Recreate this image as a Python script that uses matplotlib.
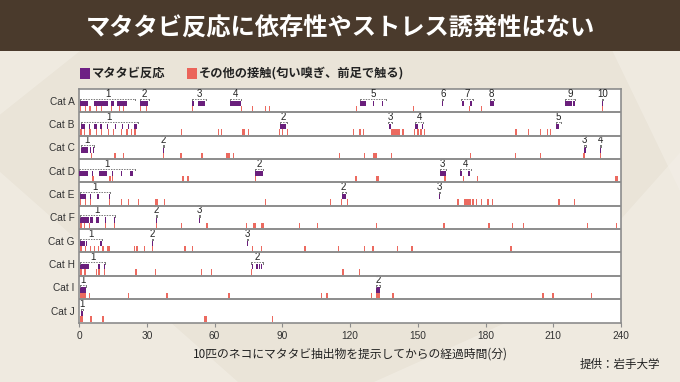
import matplotlib
matplotlib.use("Agg")
import matplotlib.pyplot as plt
from matplotlib.patches import Rectangle, Polygon

plt.rcParams['font.family'] = ['Noto Sans CJK JP', 'DejaVu Sans']

# ---------------- data (minutes) ----------------
cats = ["Cat A", "Cat B", "Cat C", "Cat D", "Cat E", "Cat F", "Cat G", "Cat H", "Cat I", "Cat J"]
x_ticks = [0, 30, 60, 90, 120, 150, 180, 210, 240]

cat_a_purple = [(0.3, 4.1), (6.8, 12.7), (14, 15.6), (16.7, 21.1), (27, 30.4), (50.2, 50.7), (52.7, 56),
                (66.7, 71.7), (124.4, 127.3), (130.2, 130.7), (134, 134.5), (160.8, 161.3), (169.5, 170.6),
                (173.3, 173.8), (181.9, 183.6), (215.2, 218.3), (218.9, 219.8), (231.6, 232.0)]
cat_a_other = [(0.5, 1.0), (2.7, 3.2), (4.6, 5.1), (7.5, 8.0), (9.7, 10.2), (14.2, 14.7), (17.5, 18.0),
               (19.4, 19.9), (27.0, 27.5), (29.7, 30.2), (50.1, 50.6), (71.8, 72.3), (76.5, 77.0),
               (82.2, 82.7), (84.2, 84.7), (122.6, 123.1), (147.7, 148.2), (172.8, 173.3), (177.8, 178.3),
               (231.6, 232.1)]
cat_a_episodes = [("1", 0.3, 25), ("2", 27, 30.8), ("3", 50, 56.3), ("4", 66.7, 71.7), ("5", 124.4, 135.8),
                  ("6", 160.8, 161.4), ("7", 169, 174.5), ("8", 181.9, 183.6), ("9", 215.2, 219.8),
                  ("10", 231.5, 232.1)]

cat_b_purple = [(0.7, 2.5), (4.4, 4.9), (6.7, 8.1), (9.1, 10.2), (12.5, 13.0), (16.0, 16.5), (19.0, 19.5),
                (21.5, 22.0), (24.4, 25.6), (89.2, 91.8), (137.2, 138.3), (149, 150.2), (151.8, 152.3),
                (211.3, 212.6)]
cat_b_other = [(0.5, 1.2), (2.3, 2.8), (4.6, 5.1), (7.5, 8.0), (9.7, 10.2), (12.7, 13.2), (15.0, 15.5),
               (18.5, 19.0), (20.8, 21.5), (23.0, 23.6), (24.5, 25.3), (45.0, 45.5), (61.5, 62.0),
               (62.8, 63.3), (72.2, 73.4), (74.8, 75.3), (88.4, 88.9), (89.8, 90.3), (92.0, 92.6),
               (121.4, 121.9), (124.1, 124.6), (125.6, 126.1), (138.3, 142.0), (143.2, 143.7),
               (148.2, 148.7), (149.8, 150.3), (151.2, 151.7), (152.6, 153.1), (193.1, 194.1),
               (198.8, 199.3), (204.0, 204.5), (207.3, 207.8), (208.6, 209.1)]
cat_b_episodes = [("1", 0.7, 26), ("2", 89, 92), ("3", 137, 138.5), ("4", 149, 152.5), ("5", 211.3, 213.5)]

cat_c_purple = [(0.7, 3.8), (4.7, 5.2), (6.2, 6.7), (37.2, 37.7), (223.7, 224.3), (230.7, 231.2)]
cat_c_other = [(5.3, 5.8), (15.7, 16.2), (19.4, 19.9), (37.2, 37.7), (44.9, 45.4), (54.2, 54.7),
               (65.3, 67.0), (68.3, 68.8), (115.1, 115.6), (126.3, 126.8), (130.0, 131.8), (138.1, 138.6),
               (173.2, 173.7), (193.1, 193.6), (204.2, 204.7), (223.3, 223.8), (230.6, 231.1)]
cat_c_episodes = [("1", 0.7, 6.7), ("2", 37.2, 37.7), ("3", 223.7, 224.3), ("4", 230.7, 231.2)]

cat_d_purple = [(0.0, 4.1), (5.7, 6.2), (8.9, 12.2), (14.4, 14.9), (18.4, 18.9), (22.6, 24.1), (77.9, 81.6),
                (159.7, 162.4), (168.6, 169.8), (172.4, 172.9)]
cat_d_other = [(5.9, 6.4), (13.5, 14.0), (14.6, 15.0), (45.7, 46.4), (48.0, 48.5), (77.9, 78.4),
               (122.4, 122.9), (131.4, 132.7), (161.8, 162.3), (170.1, 170.6), (176.1, 176.6),
               (237.5, 238.5)]
cat_d_episodes = [("1", 0, 24.6), ("2", 77.9, 81.6), ("3", 159.7, 162.4), ("4", 168.6, 173.5)]

cat_e_purple = [(0.4, 3.3), (4.7, 5.2), (8.1, 8.6), (13.3, 13.8), (116.3, 118.1), (159.5, 160.0)]
cat_e_other = [(0.5, 1.0), (2.5, 3.0), (4.7, 5.2), (13.3, 13.8), (18.6, 19.1), (21.5, 22.0), (26.0, 26.5),
               (33.6, 35.1), (37.7, 38.2), (82.3, 82.8), (111.2, 111.7), (115.8, 116.3), (118.6, 119.1),
               (167.6, 168.1), (170.6, 173.5), (174.2, 174.7), (175.8, 176.3), (177.9, 178.4),
               (180.8, 181.3), (182.7, 183.5), (212.3, 212.8), (219.2, 219.7)]
cat_e_episodes = [("1", 0.4, 13.8), ("2", 116.3, 118.1), ("3", 159.5, 160.0)]

cat_f_purple = [(0.4, 4.4), (4.9, 6.4), (7.4, 9.0), (11.6, 12.1), (15.6, 16.1), (34.1, 34.6), (53.0, 53.5)]
cat_f_other = [(0.6, 1.1), (2.2, 2.7), (4.5, 5.0), (11.6, 12.1), (15.6, 16.1), (34.1, 34.6), (45.1, 45.8),
               (56.4, 56.9), (73.8, 74.3), (77.0, 78.5), (80.7, 81.7), (97.3, 97.8), (105.3, 105.8),
               (131.4, 131.9), (161.3, 161.8), (181.3, 181.8), (191.8, 192.3), (196.5, 197.0),
               (225.0, 225.5), (237.9, 238.4)]
cat_f_episodes = [("1", 0.4, 15.8), ("2", 34.1, 34.6), ("3", 53.0, 53.5)]

cat_g_purple = [(0.4, 2.6), (3.2, 3.7), (9.5, 10.2), (32.3, 32.8), (74.4, 74.9)]
cat_g_other = [(0.5, 1.3), (2.5, 3.0), (4.7, 5.2), (6.5, 7.0), (8.3, 8.8), (10.4, 10.9), (12.4, 13.7),
               (24.2, 24.7), (25.4, 25.9), (28.6, 29.1), (32.3, 32.8), (46.5, 47.3), (50.1, 50.6),
               (76.7, 77.2), (80.7, 81.2), (99.8, 100.5), (114.7, 115.2), (126.2, 126.7), (129.9, 130.4),
               (140.7, 141.2), (147.2, 147.7), (191.0, 191.5)]
cat_g_episodes = [("1", 0.4, 10.2), ("2", 32.3, 32.8), ("3", 74.4, 74.9)]

cat_h_purple = [(0.6, 4.4), (8.3, 9.1), (11.0, 11.5), (76.5, 77.0), (78.5, 79.0), (79.7, 80.2), (80.7, 81.2)]
cat_h_other = [(0.6, 1.5), (2.3, 3.2), (7.5, 8.0), (8.6, 9.1), (11.0, 11.5), (25.0, 25.5), (33.7, 34.2),
               (54.1, 54.6), (58.5, 59.0), (76.2, 76.7), (116.6, 117.1), (124.0, 124.5)]
cat_h_episodes = [("1", 0.6, 11.5), ("2", 76.0, 81.5)]

cat_i_purple = [(0.6, 3.0), (131.6, 133.1)]
cat_i_other = [(0.6, 3.0), (4.4, 4.9), (21.5, 22.0), (38.6, 39.3), (66.1, 66.6), (107.0, 107.5),
               (109.5, 110.0), (129.4, 129.9), (131.6, 133.1), (138.8, 139.3), (205.2, 205.7),
               (209.6, 210.1), (226.6, 227.1)]
cat_i_episodes = [("1", 0.6, 3.0), ("2", 131.6, 133.1)]

cat_j_purple = [(1.0, 1.7)]
cat_j_other = [(0.4, 1.8), (5.0, 5.5), (10.0, 11.1), (55.5, 56.0), (56.2, 56.7), (85.3, 85.8)]
cat_j_episodes = [("1", 1.0, 1.7)]

purple_all = [cat_a_purple, cat_b_purple, cat_c_purple, cat_d_purple, cat_e_purple,
              cat_f_purple, cat_g_purple, cat_h_purple, cat_i_purple, cat_j_purple]
other_all = [cat_a_other, cat_b_other, cat_c_other, cat_d_other, cat_e_other,
             cat_f_other, cat_g_other, cat_h_other, cat_i_other, cat_j_other]
episodes_all = [cat_a_episodes, cat_b_episodes, cat_c_episodes, cat_d_episodes, cat_e_episodes,
                cat_f_episodes, cat_g_episodes, cat_h_episodes, cat_i_episodes, cat_j_episodes]

# ---------------- style ----------------
BG = "#eae4d8"
BAR = "#4a3a2c"
PURPLE = "#6a1f7c"
SALMON = "#ec6a60"
GRID = "#8c8c8c"

fig = plt.figure(figsize=(6.8, 3.82), dpi=100)
fig.patch.set_facecolor(BG)

# subtle lighter background facets
for pts in ([(0.0, 0.0), (0.0, 0.55), (0.35, 0.0)],
            [(0.55, 0.0), (1.0, 0.0), (1.0, 0.6), (0.8, 0.2)],
            [(0.9, 0.87), (1.0, 0.87), (1.0, 0.5)],
            [(0.0, 0.87), (0.12, 0.87), (0.0, 0.7)]):
    fig.patches.append(Polygon(pts, closed=True, transform=fig.transFigure,
                               facecolor="#f3efe7", edgecolor="none", alpha=0.6, zorder=-2))

# title band
fig.patches.append(Rectangle((0, 1 - 51 / 382), 1, 51 / 382, transform=fig.transFigure,
                             facecolor=BAR, edgecolor="none", zorder=-1))
fig.text(0.5, 1 - 28 / 382, "マタタビ反応に依存性やストレス誘発性はない", color="white",
         fontsize=17.5, fontweight="bold", ha="center", va="center")

# legend
ly = 1 - 73 / 382
fig.patches.append(Rectangle((80 / 680, ly - 5.5 / 382), 10 / 680, 11 / 382, transform=fig.transFigure,
                             facecolor="#6e2084", edgecolor="none"))
fig.text(92 / 680, ly, "マタタビ反応", fontsize=8.8, fontweight="bold", color="#222", va="center")
fig.patches.append(Rectangle((187 / 680, ly - 5.5 / 382), 10 / 680, 11 / 382, transform=fig.transFigure,
                             facecolor="#eb645a", edgecolor="none"))
fig.text(199 / 680, ly, "その他の接触(匂い嗅ぎ、前足で触る)", fontsize=8.8, fontweight="bold",
         color="#222", va="center")

ax = fig.add_axes([79 / 680, 1 - 322.5 / 382, 542 / 680, (322.5 - 89) / 382])
ax.set_zorder(3)
ax.set_facecolor("white")
ax.set_xlim(0, 240)
ax.set_ylim(0, len(cats))

MINW = 0.55
n = len(cats)
for i in range(n):
    y0 = n - 1 - i
    pb = [(s, max(e - s, MINW)) for s, e in purple_all[i]]
    ob = [(s, max(e - s, MINW)) for s, e in other_all[i]]
    ax.broken_barh(ob, (y0 + 0.03, 0.25), facecolors=SALMON, edgecolor="none", zorder=2)
    ax.broken_barh(pb, (y0 + 0.28, 0.22), facecolors=PURPLE, edgecolor="none", zorder=3)
    for lab, s, e in episodes_all[i]:
        yb = y0 + 0.585
        ax.plot([s, e], [yb, yb], color="#777777", lw=0.7, ls=(0, (1.5, 1.2)), zorder=3)
        ax.plot([s, s], [yb, yb - 0.06], color="#777777", lw=0.7, zorder=3)
        ax.plot([e, e], [yb, yb - 0.06], color="#777777", lw=0.7, zorder=3)
        ax.text((s + e) / 2, y0 + 0.8, lab, fontsize=7, color="#222",
                family=["Liberation Sans", "DejaVu Sans"], ha="center", va="center", zorder=4)
    if i > 0:
        ax.axhline(y0 + 1, color=GRID, lw=1.4, zorder=5)

for sp in ax.spines.values():
    sp.set_color(GRID)
    sp.set_linewidth(1.2)

ax.set_yticks([n - 1 - i + 0.5 for i in range(n)])
ax.set_yticklabels(cats, fontsize=7.3, color="#333", family=["Liberation Sans", "DejaVu Sans"])
ax.tick_params(axis="y", length=0, pad=3)
ax.set_xticks(x_ticks)
ax.set_xticklabels([str(t) for t in x_ticks], fontsize=7.3, color="#333",
                   family=["Liberation Sans", "DejaVu Sans"])
ax.tick_params(axis="x", length=3, color=GRID, pad=3)

fig.text((79 + 621) / 2 / 680, 1 - 354 / 382, "10匹のネコにマタタビ抽出物を提示してからの経過時間(分)",
         fontsize=8.5, color="#222", ha="center", va="center")
fig.text(660 / 680, 1 - 364 / 382, "提供：岩手大学", fontsize=8.3, color="#222", ha="right", va="center")

fig.savefig("out.png", dpi=100, facecolor=BG)
